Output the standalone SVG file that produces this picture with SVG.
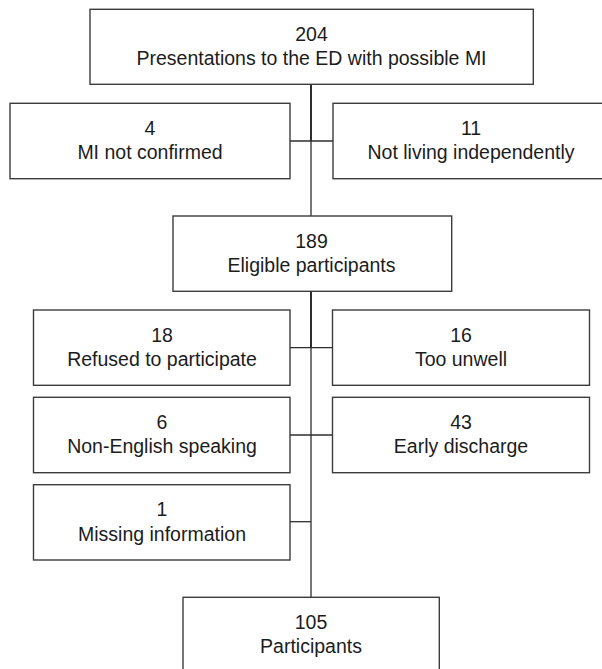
<svg xmlns="http://www.w3.org/2000/svg" width="602" height="669" viewBox="0 0 602 669">
  <style>
    .box { fill: #ffffff; stroke: #3c3c3c; stroke-width: 1.4; }
    .conn { stroke: #2e2e2e; stroke-width: 1.3; fill: none; }
    .thick { stroke-width: 2; }
    text { font-family: "Liberation Sans", Arial, sans-serif; font-size: 19.5px; fill: #1c1c1c; text-anchor: middle; }
  </style>
  <rect width="602" height="669" fill="#ffffff"/>
  <g id="connectors">
    <line class="conn thick" x1="311" y1="84" x2="311" y2="141"/>
    <line class="conn" x1="311" y1="141" x2="311" y2="216"/>
    <line class="conn" x1="290" y1="141" x2="333" y2="141"/>
    <line class="conn thick" x1="311" y1="291" x2="311" y2="348"/>
    <line class="conn" x1="311" y1="348" x2="311" y2="597"/>
    <line class="conn" x1="290" y1="347.7" x2="333" y2="347.7"/>
    <line class="conn" x1="290" y1="435" x2="333" y2="435"/>
    <line class="conn" x1="290" y1="521.7" x2="311" y2="521.7"/>
  </g>
  <g id="n204">
    <rect class="box" x="90" y="9.3" width="443.3" height="75"/>
    <text x="311.5" y="41">204</text>
    <text x="311.5" y="65">Presentations to the ED with possible MI</text>
  </g>
  <g id="n4">
    <rect class="box" x="10" y="103.3" width="280" height="75.4"/>
    <text x="150" y="135">4</text>
    <text x="150" y="159.3">MI not confirmed</text>
  </g>
  <g id="n11">
    <rect class="box" x="333" y="103.3" width="277" height="75.4"/>
    <text x="471" y="135">11</text>
    <text x="471" y="159.3">Not living independently</text>
  </g>
  <g id="n189">
    <rect class="box" x="173" y="216" width="278.7" height="75.3"/>
    <text x="311.5" y="247.7">189</text>
    <text x="311.5" y="271.7">Eligible participants</text>
  </g>
  <g id="n18">
    <rect class="box" x="33.5" y="310" width="256.5" height="75.3"/>
    <text x="162" y="341.7">18</text>
    <text x="162" y="366">Refused to participate</text>
  </g>
  <g id="n16">
    <rect class="box" x="332.5" y="310" width="257" height="75.3"/>
    <text x="461" y="341.7">16</text>
    <text x="461" y="366">Too unwell</text>
  </g>
  <g id="n6">
    <rect class="box" x="33.5" y="397.3" width="256.5" height="75.4"/>
    <text x="162" y="429">6</text>
    <text x="162" y="453.3">Non-English speaking</text>
  </g>
  <g id="n43">
    <rect class="box" x="332.5" y="397.3" width="257" height="75.4"/>
    <text x="461" y="429">43</text>
    <text x="461" y="453.3">Early discharge</text>
  </g>
  <g id="n1">
    <rect class="box" x="33.5" y="484.7" width="256.5" height="75.3"/>
    <text x="162" y="516.3">1</text>
    <text x="162" y="540.6">Missing information</text>
  </g>
  <g id="n105">
    <rect class="box" x="183" y="597.3" width="256.3" height="80"/>
    <text x="311" y="629">105</text>
    <text x="311" y="653">Participants</text>
  </g>
</svg>
